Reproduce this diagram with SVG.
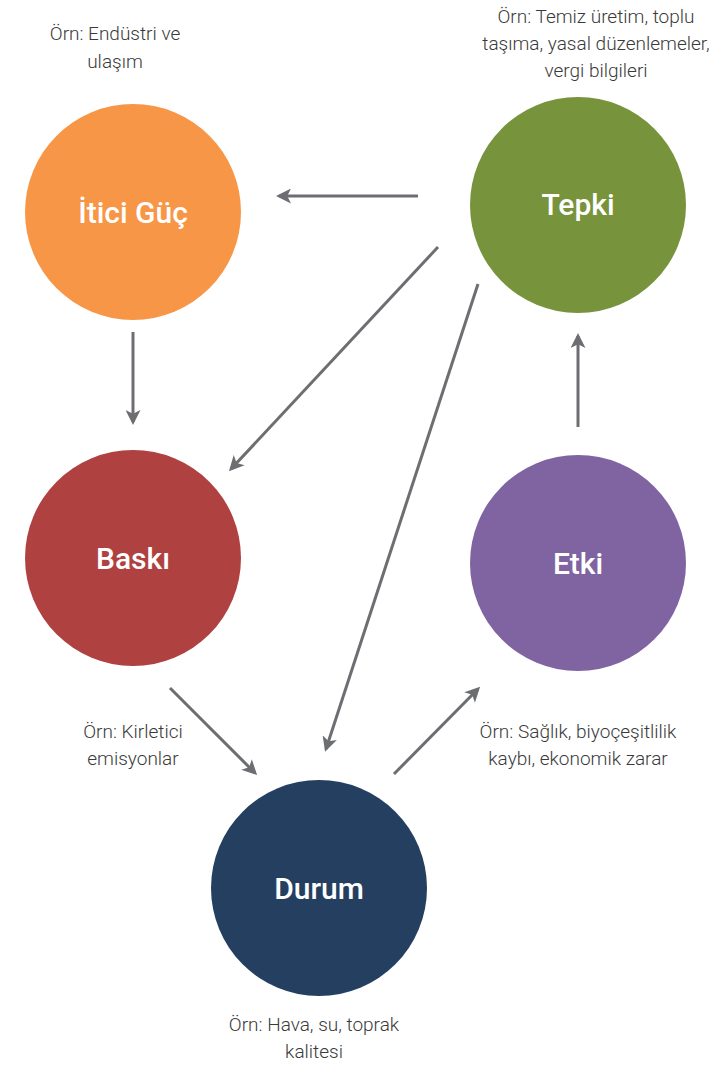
<svg xmlns="http://www.w3.org/2000/svg" width="722" height="1067" viewBox="0 0 722 1067">
<style>
.lbl{font-family:Roboto,"Liberation Sans",sans-serif;font-size:30px;font-weight:500;fill:#ffffff;text-anchor:middle}
.note{font-family:Roboto,"Liberation Sans",sans-serif;font-size:19px;font-weight:300;fill:#3a3a3a;text-anchor:middle}
.con{stroke:#6d6e71;stroke-width:3;fill:none;marker-end:url(#ah)}
</style>
<defs>
<marker id="ah" viewBox="0 0 10 10" refX="8" refY="5" markerWidth="6" markerHeight="5" orient="auto" markerUnits="strokeWidth">
<path d="M0,0 L10,5 L0,10 L2.5,5 Z" fill="#6d6e71"/>
</marker>
</defs>
<rect width="722" height="1067" fill="#ffffff"/>
<g id="connectors">
<line class="con" x1="418" y1="196" x2="279" y2="196"/>
<line class="con" x1="438" y1="247" x2="231" y2="469"/>
<line class="con" x1="478" y1="284" x2="326" y2="749"/>
<line class="con" x1="133" y1="332" x2="133" y2="422"/>
<line class="con" x1="170" y1="688" x2="255" y2="773"/>
<line class="con" x1="394" y1="774" x2="478" y2="689"/>
<line class="con" x1="578" y1="427" x2="578" y2="336"/>
</g>
<g id="itici">
<circle cx="133" cy="212" r="108" fill="#F79646"/>
<text class="lbl" x="133" y="223">İtici Güç</text>
<text class="note" x="115" y="40">Örn: Endüstri ve</text>
<text class="note" x="115" y="68">ulaşım</text>
</g>
<g id="tepki">
<circle cx="578" cy="205" r="108" fill="#77933C"/>
<text class="lbl" x="578" y="215">Tepki</text>
<text class="note" x="596" y="23">Örn: Temiz üretim, toplu</text>
<text class="note" x="596" y="50">taşıma, yasal düzenlemeler,</text>
<text class="note" x="596" y="77">vergi bilgileri</text>
</g>
<g id="baski">
<circle cx="133" cy="558" r="108" fill="#AF4140"/>
<text class="lbl" x="133" y="569">Baskı</text>
<text class="note" x="133" y="738">Örn: Kirletici</text>
<text class="note" x="133" y="765">emisyonlar</text>
</g>
<g id="etki">
<circle cx="578" cy="563" r="108" fill="#8064A2"/>
<text class="lbl" x="578" y="574">Etki</text>
<text class="note" x="578" y="738">Örn: Sağlık, biyoçeşitlilik</text>
<text class="note" x="578" y="765">kaybı, ekonomik zarar</text>
</g>
<g id="durum">
<circle cx="319" cy="888" r="108" fill="#243F60"/>
<text class="lbl" x="319" y="899">Durum</text>
<text class="note" x="314" y="1031">Örn: Hava, su, toprak</text>
<text class="note" x="314" y="1058">kalitesi</text>
</g>
</svg>
